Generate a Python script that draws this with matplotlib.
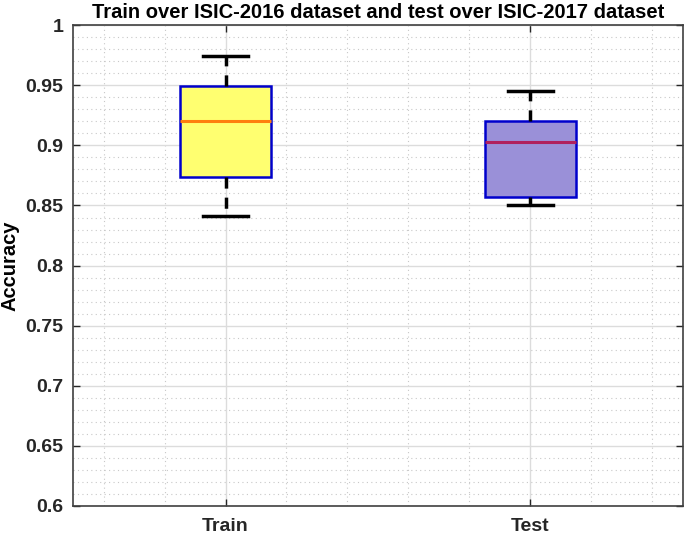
import matplotlib.pyplot as plt
from matplotlib.ticker import MultipleLocator

plt.rcParams["font.family"] = ["Liberation Sans", "DejaVu Sans"]

# datos
grupos = ["Train", "Test"]
whisker_low = [0.841, 0.850]
q1 = [0.874, 0.857]
medianas = [0.920, 0.903]
q3 = [0.949, 0.920]
whisker_high = [0.974, 0.945]

colores_caja = ["#ffff70", "#9a90d8"]
colores_mediana = ["#ff7f0e", "#b0205e"]

stats = []
for i, g in enumerate(grupos):
    stats.append({
        "label": g,
        "whislo": whisker_low[i],
        "q1": q1[i],
        "med": medianas[i],
        "q3": q3[i],
        "whishi": whisker_high[i],
        "fliers": [],
    })

fig = plt.figure(figsize=(6.85, 5.36), dpi=100)
ax = fig.add_axes([0.1066, 0.056, 0.8904, 0.897])

bp = ax.bxp(stats, positions=[1, 2], widths=0.3, patch_artist=True,
            showfliers=False, zorder=3)

for i, caja in enumerate(bp["boxes"]):
    caja.set_facecolor(colores_caja[i])
    caja.set_edgecolor("#0000cc")
    caja.set_linewidth(1.8)
for i, med in enumerate(bp["medians"]):
    med.set_color(colores_mediana[i])
    med.set_linewidth(2.2)
for w in bp["whiskers"]:
    w.set_color("black")
    w.set_linestyle((0, (3.2, 2.6)))
    w.set_linewidth(2.5)
for c in bp["caps"]:
    c.set_color("black")
    c.set_linewidth(2.5)

ax.set_xlim(0.5, 2.5)
ax.set_ylim(0.6, 1.0)
ax.yaxis.set_minor_locator(MultipleLocator(0.01))
ax.xaxis.set_minor_locator(MultipleLocator(0.2))
ax.set_yticks([0.6, 0.65, 0.7, 0.75, 0.8, 0.85, 0.9, 0.95, 1.0])
ax.set_yticklabels(["0.6", "0.65", "0.7", "0.75", "0.8", "0.85", "0.9", "0.95", "1"])
ax.set_xticks([1, 2])
ax.set_xticklabels(grupos)

ax.grid(True, which="major", color="#dcdcdc", linewidth=1, zorder=0)
ax.grid(True, which="minor", color="#c8c8c8", linestyle=(0, (1, 3)),
        linewidth=0.8, zorder=0)
ax.set_axisbelow(True)

ax.tick_params(which="both", direction="in", top=True, right=True,
               labelsize=14, colors="#262626", length=5, width=1)
ax.tick_params(axis="y", pad=7)
ax.tick_params(axis="x", pad=9)
ax.tick_params(which="minor", length=0)
for lab in ax.get_xticklabels() + ax.get_yticklabels():
    lab.set_fontweight("bold")
for s in ax.spines.values():
    s.set_color("#404040")
    s.set_linewidth(1.2)

ax.set_ylabel("Accuracy", fontsize=14.5, fontweight="bold")
ax.yaxis.set_label_coords(-0.087, 0.5)
ax.set_title("Train over ISIC-2016 dataset and test over ISIC-2017 dataset",
             fontsize=14.5, fontweight="bold", pad=5)

plt.savefig("out.png", dpi=100)
plt.close()
